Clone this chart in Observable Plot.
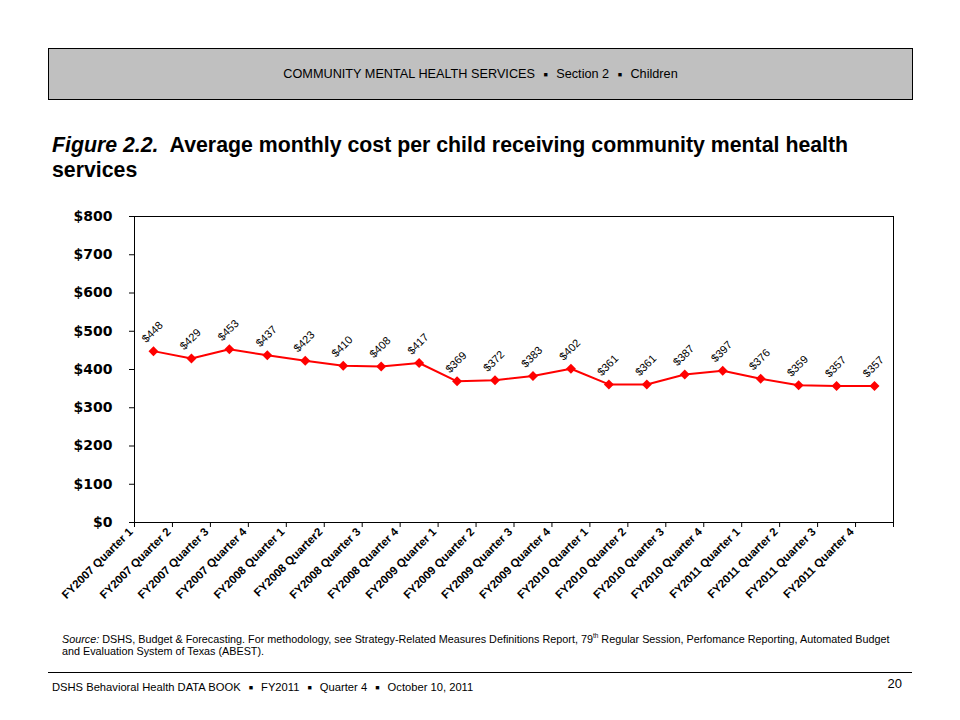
<!DOCTYPE html>
<html>
<head>
<meta charset="utf-8">
<script src="https://cdn.jsdelivr.net/npm/d3@7"></script>
<script src="https://cdn.jsdelivr.net/npm/@observablehq/plot@0.6"></script>
<style>
  html, body { margin: 0; padding: 0; background: #fff; }
  #page { position: relative; width: 960px; height: 720px; background: #fff; font-family: "Liberation Sans", Arial, sans-serif; color: #000; overflow: hidden; }
  #header { position: absolute; left: 48px; top: 48px; width: 863px; height: 50px; background: #c0c0c0; border: 1px solid #000; font-size: 12.7px; text-align: center; line-height: 50px; }
  #title { position: absolute; left: 52px; top: 133px; width: 880px; font-size: 21.3px; font-weight: bold; line-height: 25px; }
  #chart { position: absolute; left: 0; top: 200px; }
  #source { position: absolute; left: 62px; top: 630px; width: 880px; font-size: 10.8px; line-height: 12.5px; }
  #rule { position: absolute; left: 48px; top: 672px; width: 864px; height: 1px; background: #000; }
  #footer { position: absolute; left: 52px; top: 680px; font-size: 11.2px; line-height: 14px; }
  #pageno { position: absolute; right: 58px; top: 676px; font-size: 13px; line-height: 16px; }
  .sq { font-size: 7px; vertical-align: 1px; padding: 0 5px; }
</style>
</head>
<body>
<div id="page">
  <div id="header">COMMUNITY MENTAL HEALTH SERVICES <span class="sq">■</span> Section 2 <span class="sq">■</span> Children</div>
  <div id="title"><i>Figure 2.2.</i>&nbsp; Average monthly cost per child receiving community mental health<br>services</div>
  <div id="chart"></div>
  <div id="source"><i>Source:</i> DSHS, Budget &amp; Forecasting. For methodology, see Strategy-Related Measures Definitions Report, 79<sup style="font-size:6.5px">th</sup> Regular Session, Perfomance Reporting, Automated Budget<br>and Evaluation System of Texas (ABEST).</div>
  <div id="rule"></div>
  <div id="footer">DSHS Behavioral Health DATA BOOK <span class="sq">■</span> FY2011 <span class="sq">■</span> Quarter 4 <span class="sq">■</span> October 10, 2011</div>
  <div id="pageno">20</div>
</div>
<script>
const quarters = [
  "FY2007 Quarter 1", "FY2007 Quarter 2", "FY2007 Quarter 3", "FY2007 Quarter 4",
  "FY2008 Quarter 1", "FY2008 Quarter2", "FY2008 Quarter 3", "FY2008 Quarter 4",
  "FY2009 Quarter 1", "FY2009 Quarter 2", "FY2009 Quarter 3", "FY2009 Quarter 4",
  "FY2010 Quarter 1", "FY2010 Quarter 2", "FY2010 Quarter 3", "FY2010 Quarter 4",
  "FY2011 Quarter 1", "FY2011 Quarter 2", "FY2011 Quarter 3", "FY2011 Quarter 4"
];
const costs = [448, 429, 453, 437, 423, 410, 408, 417, 369, 372, 383, 402, 361, 361, 387, 397, 376, 359, 357, 357];
const yTicks = [0, 100, 200, 300, 400, 500, 600, 700, 800];

const data = quarters.map((q, i) => ({quarter: q, cost: costs[i]}));

const W = 960, mL = 134, mR = 67;
const bw = (W - mL - mR) / quarters.length;

const chart = Plot.plot({
  width: W,
  height: 420,
  marginLeft: mL,
  marginRight: mR,
  marginTop: 16,
  marginBottom: 98,
  style: {fontFamily: "'Liberation Sans', Arial, sans-serif", background: "white", color: "black"},
  x: {type: "band", domain: quarters, padding: 0, round: false, label: null, axis: null},
  y: {domain: [0, 800], label: null},
  marks: [
    Plot.frame({stroke: "black", strokeWidth: 1}),
    Plot.axisY({ticks: yTicks, tickFormat: d => "$" + d, tickSize: 5, tickPadding: 17,
      fontFamily: "'DejaVu Sans', sans-serif", fontWeight: "bold", fontSize: 14, label: null}),
    Plot.ruleX(quarters, {x: d => d, y1: 0, y2: 0, dx: -bw / 2, insetBottom: -5, stroke: "black"}),
    Plot.ruleX(quarters.slice(-1), {x: d => d, y1: 0, y2: 0, dx: bw / 2, insetBottom: -5, stroke: "black"}),
    Plot.text(quarters, {x: d => d, frameAnchor: "bottom", text: d => d, rotate: -45, textAnchor: "end",
      dx: -bw / 2 - 1, dy: 10, fontWeight: "bold", fontSize: 11.5, fill: "black"}),
    Plot.line(data, {x: "quarter", y: "cost", stroke: "#ff0000", strokeWidth: 2}),
    Plot.dot(data, {x: "quarter", y: "cost", symbol: "diamond2", r: 4.5, fill: "#ff0000", stroke: "none"}),
    Plot.text(data, {x: "quarter", y: "cost", text: d => "$" + d.cost, rotate: -45, dy: -19, dx: -1,
      fontSize: 11, textAnchor: "middle", fill: "black"})
  ]
});
document.getElementById("chart").appendChild(chart);
</script>
</body>
</html>
